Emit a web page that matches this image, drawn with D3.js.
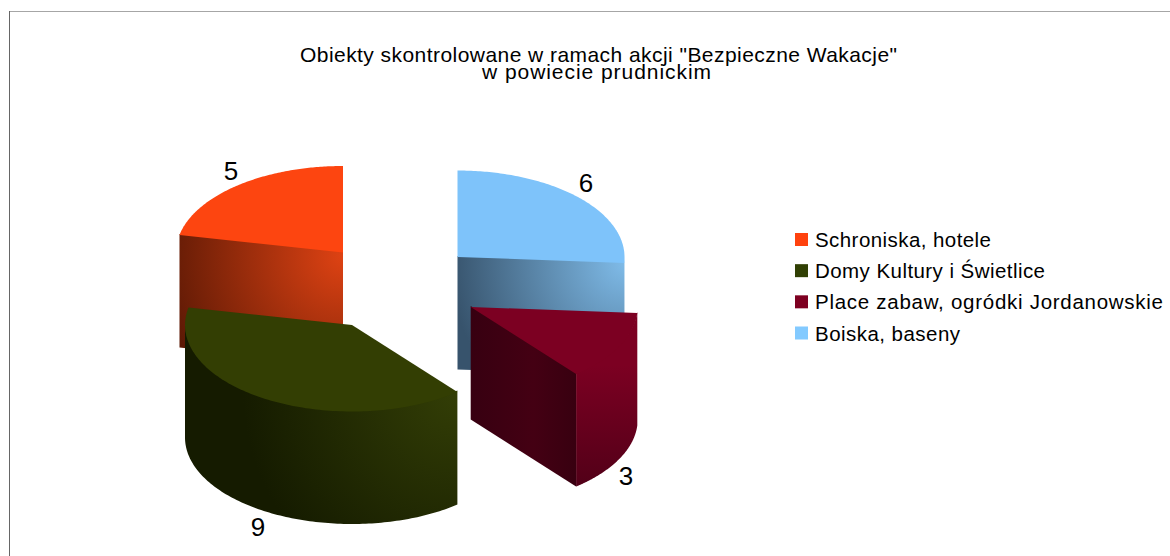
<!DOCTYPE html>
<html>
<head>
<meta charset="utf-8">
<script src="https://cdn.jsdelivr.net/npm/d3@7/dist/d3.min.js"></script>
<style>
html,body{margin:0;padding:0;background:#fff;}
svg{display:block;}
text{font-family:"Liberation Sans",Arial,sans-serif;fill:#000;}
</style>
</head>
<body>
<svg id="chart" width="1170" height="556"></svg>
<script>
const categories = ["Schroniska, hotele","Domy Kultury i Świetlice","Place zabaw, ogródki Jordanowskie","Boiska, baseny"];
const values = [5,9,3,6];
const colors = ["#fd4510","#333e03","#7c0022","#7ec3fa"];
const legendColors = ["#ff420e","#314004","#7e0021","#83caff"];
const titleLines = ['Obiekty skontrolowane w ramach akcji "Bezpieczne Wakacje"','w powiecie prudnickim'];

// layout only
const W=1170,H=556, rx=167, ry=86.5, depth=112.5;
const apex=[[343,252.5],[352,325],[470.7,307],[457.5,257]];
const labelPos=[[231,171],[258,527],[626,476],[586,183]];
const sideStops=[
  {c:[343,256],r:185,from:"#de4213",to:"#5c1905"},
  {c:[458,392],r:215,from:"#333e06",to:"#151b00"},
  null,
  {c:[625,263],r:175,from:"#7fbbe8",to:"#37536c"}
];
const legendWidths=[176,230,348,145];

const svg=d3.select("#chart");
svg.append("rect").attr("width",W).attr("height",H).attr("fill","#fff");
svg.append("line").attr("x1",9).attr("x2",W).attr("y1",11.5).attr("y2",11.5).attr("stroke","#a6a6a6").attr("stroke-width",1);
svg.append("line").attr("x1",9.5).attr("x2",9.5).attr("y1",11).attr("y2",H).attr("stroke","#666").attr("stroke-width",1);

const defs=svg.append("defs");
sideStops.forEach((s,i)=>{
  if(!s) return;
  const g=defs.append("radialGradient").attr("id","side"+i).attr("gradientUnits","userSpaceOnUse")
    .attr("cx",s.c[0]).attr("cy",s.c[1]).attr("r",s.r);
  g.append("stop").attr("offset",0).attr("stop-color",s.from);
  g.append("stop").attr("offset",1).attr("stop-color",s.to);
});
const mg=defs.append("linearGradient").attr("id","side2out").attr("gradientUnits","userSpaceOnUse")
  .attr("x1",0).attr("x2",0).attr("y1",365).attr("y2",486);
mg.append("stop").attr("offset",0).attr("stop-color","#7c0022");
mg.append("stop").attr("offset",1).attr("stop-color","#520018");
const mc=defs.append("linearGradient").attr("id","side2cut").attr("gradientUnits","userSpaceOnUse")
  .attr("x1",470).attr("x2",576).attr("y1",0).attr("y2",0);
mc.append("stop").attr("offset",0).attr("stop-color","#370011");
mc.append("stop").attr("offset",.6).attr("stop-color","#440013");
mc.append("stop").attr("offset",1).attr("stop-color","#380010");

// counter-clockwise from the top, in legend order
const arcs=d3.pie().sort(null).startAngle(2*Math.PI).endAngle(0)(values);
const line=d3.line();
const pt=(i,a,dz=0)=>[apex[i][0]+rx*Math.sin(a), apex[i][1]-ry*Math.cos(a)+dz];
const rim=(i,a0,a1,dz=0)=>d3.range(0,121).map(k=>pt(i,a0+(a1-a0)*k/120,dz));

function drawSlice(i){
  const a=arcs[i], a0=a.endAngle, a1=a.startAngle; // a0<a1, clockwise
  const g=svg.append("g").attr("class","slice");
  const [ax,ay]=apex[i];
  const fillSide=i===2?"url(#side2cut)":`url(#side${i})`;
  // curved outer face, front half only; reaches under the top face to hide the seam
  const lo=Math.max(a0,Math.PI/2), hi=Math.min(a1,3*Math.PI/2);
  if(lo<hi){
    const pts=rim(i,lo,hi,-1.5).concat(rim(i,hi,lo,depth));
    g.append("path").attr("d",line(pts)+"Z").attr("fill",i===2?"url(#side2out)":fillSide);
  }
  // cut faces that turn toward the viewer
  const cut=[];
  if(Math.sin(a0)<-1e-6) cut.push(a0);
  if(Math.sin(a1)>1e-6) cut.push(a1);
  cut.forEach(t=>{
    const p=pt(i,t);
    g.append("path").attr("d",line([[ax,ay-1],[p[0],p[1]-1],[p[0],p[1]+depth],[ax,ay+depth]])+"Z").attr("fill",fillSide);
  });
  // top face
  g.append("path").attr("d",line([[ax,ay]].concat(rim(i,a0,a1)))+"Z").attr("fill",colors[i]);
}
[3,0,2,1].forEach(drawSlice);

svg.selectAll("text.val").data(values).join("text").attr("class","val")
  .attr("x",(d,i)=>labelPos[i][0]).attr("y",(d,i)=>labelPos[i][1])
  .attr("text-anchor","middle").attr("dominant-baseline","central")
  .attr("font-size",26).text(d=>d);

const titleX=[300,482], titleW=[597,229], titleY=[61.5,79];
titleLines.forEach((t,i)=>{
  svg.append("text").attr("x",titleX[i]).attr("y",titleY[i]).attr("font-size",21)
    .attr("textLength",titleW[i]).attr("lengthAdjust","spacing").text(t);
});

const legY=d3.scalePoint().domain(categories).range([239.5,333]);
categories.forEach((c,i)=>{
  const y=legY(c);
  svg.append("rect").attr("x",795).attr("y",y-6.5).attr("width",13).attr("height",13).attr("fill",legendColors[i]);
  svg.append("text").attr("x",815).attr("y",y+7.5).attr("font-size",20.5)
    .attr("textLength",legendWidths[i]).attr("lengthAdjust","spacing").text(c);
});
</script>
</body>
</html>
